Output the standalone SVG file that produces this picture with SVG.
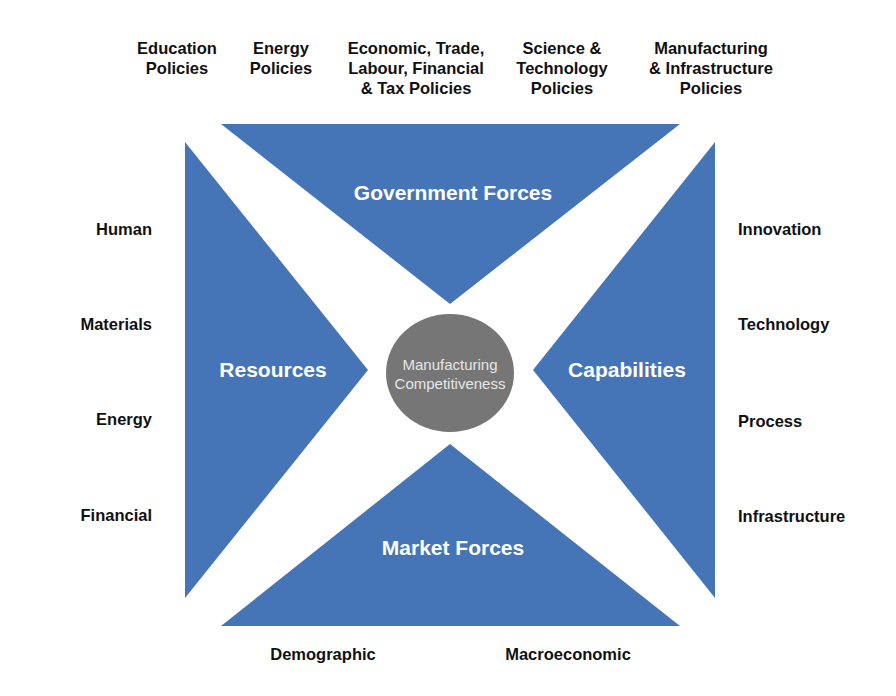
<svg xmlns="http://www.w3.org/2000/svg" width="896" height="696" viewBox="0 0 896 696">
<style>
.tri{fill:#4575b6}
.big{font-family:"Liberation Sans",Arial,sans-serif;font-weight:bold;font-size:21px;fill:#ffffff;text-anchor:middle}
.lbl{font-family:"Liberation Sans",Arial,sans-serif;font-weight:bold;font-size:16.5px;fill:#111111}
.c{text-anchor:middle}
.r{text-anchor:end}
.ctr{font-family:"Liberation Sans",Arial,sans-serif;font-size:15px;fill:#e6e6e6;text-anchor:middle}
</style>
<rect width="896" height="696" fill="#ffffff"/>
<g id="government">
<polygon class="tri" points="221,124 680,124 450,304"/>
<text class="big" x="453" y="200">Government Forces</text>
</g>
<g id="resources">
<polygon class="tri" points="185,142 185,598 368,370"/>
<text class="big" x="273" y="377">Resources</text>
</g>
<g id="capabilities">
<polygon class="tri" points="715,142 715,598 533,370"/>
<text class="big" x="627" y="377">Capabilities</text>
</g>
<g id="market">
<polygon class="tri" points="221,626 680,626 450,444"/>
<text class="big" x="453" y="555">Market Forces</text>
</g>
<g id="center">
<ellipse cx="450" cy="373" rx="64" ry="59" fill="#767676"/>
<text class="ctr" x="450" y="370">Manufacturing</text>
<text class="ctr" x="450" y="389">Competitiveness</text>
</g>
<g id="top-labels">
<text class="lbl c" x="177" y="54">Education</text>
<text class="lbl c" x="177" y="74">Policies</text>
<text class="lbl c" x="281" y="54">Energy</text>
<text class="lbl c" x="281" y="74">Policies</text>
<text class="lbl c" x="416" y="54">Economic, Trade,</text>
<text class="lbl c" x="416" y="74">Labour, Financial</text>
<text class="lbl c" x="416" y="94">&amp; Tax Policies</text>
<text class="lbl c" x="562" y="54">Science &amp;</text>
<text class="lbl c" x="562" y="74">Technology</text>
<text class="lbl c" x="562" y="94">Policies</text>
<text class="lbl c" x="711" y="54">Manufacturing</text>
<text class="lbl c" x="711" y="74">&amp; Infrastructure</text>
<text class="lbl c" x="711" y="94">Policies</text>
</g>
<g id="left-labels">
<text class="lbl r" x="152" y="235">Human</text>
<text class="lbl r" x="152" y="330">Materials</text>
<text class="lbl r" x="152" y="425">Energy</text>
<text class="lbl r" x="152" y="521">Financial</text>
</g>
<g id="right-labels">
<text class="lbl" x="738" y="235">Innovation</text>
<text class="lbl" x="738" y="330">Technology</text>
<text class="lbl" x="738" y="427">Process</text>
<text class="lbl" x="738" y="522">Infrastructure</text>
</g>
<g id="bottom-labels">
<text class="lbl c" x="323" y="660">Demographic</text>
<text class="lbl c" x="568" y="660">Macroeconomic</text>
</g>
<g id="connectors"></g>
</svg>
